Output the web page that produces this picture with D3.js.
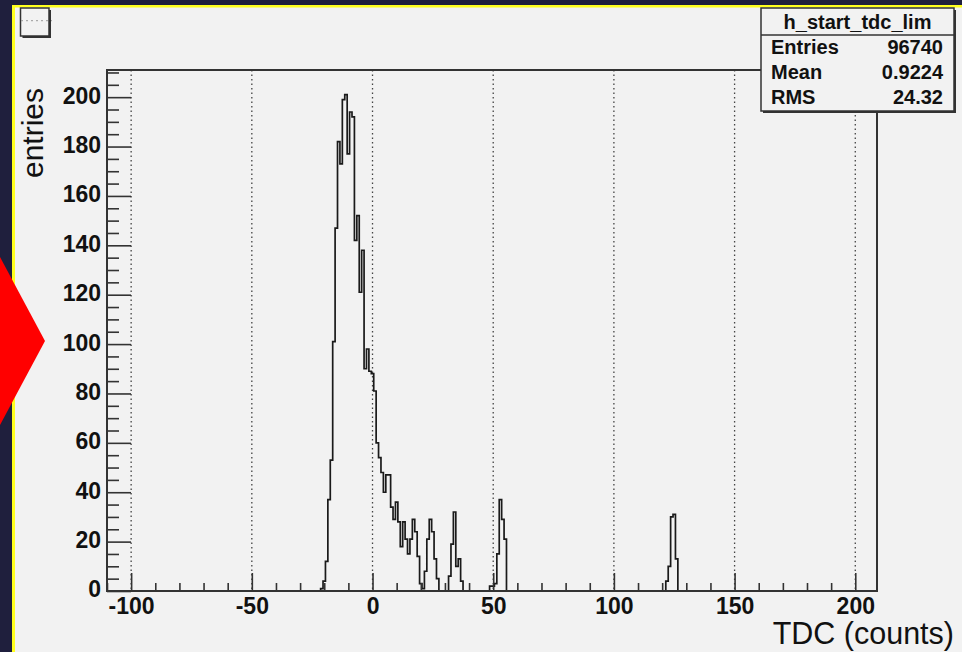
<!DOCTYPE html>
<html>
<head>
<meta charset="utf-8">
<script src="https://cdn.jsdelivr.net/npm/d3@7/dist/d3.min.js"></script>
<style>
  body { margin: 0; background: #1f1f3d; }
  svg text { font-family: "Liberation Sans", Arial, Helvetica, sans-serif; }
</style>
</head>
<body>
<svg id="chart" width="962" height="652"></svg>
<script>
// TDC histogram (h_start_tdc_lim), bins of width 1

// main peak, first bin starts at -21.5
var mainStart = -21.5;
var mainCounts = [1, 4, 12, 37, 53, 101, 147, 182, 173, 199, 201, 177, 194, 192, 142, 152,
  121, 138, 90, 98, 89, 88, 81, 60, 54, 48, 40, 47, 47, 34, 29, 36, 28, 18, 28, 21, 15,
  21, 29, 24, 14, 3, 1, 8, 21, 29, 24, 13, 5];

// smaller bumps
var bump1Start = 31.5;
var bump1Counts = [6, 19, 32, 10, 13, 4];
var bump2Start = 48.5;
var bump2Counts = [2, 2, 3, 15, 37, 29, 21];
var bump3Start = 121.5;
var bump3Counts = [4, 10, 30, 31, 13];

var binWidth = 1;
var xMajorTicks = [-100, -50, 0, 50, 100, 150, 200];
var xMinorTicks = d3.range(-110, 210, 10).filter(v => xMajorTicks.indexOf(v) < 0);
var yMajorTicks = [0, 20, 40, 60, 80, 100, 120, 140, 160, 180, 200];
var yMinorTicks = d3.range(0, 211, 5).filter(v => yMajorTicks.indexOf(v) < 0);

var statsTitle = "h_start_tdc_lim";
var statsRows = [["Entries", "96740"], ["Mean", "0.9224"], ["RMS", "24.32"]];

// frame of the plot
var frame = { left: 107, top: 70, right: 877, bottom: 591 };

var svg = d3.select("#chart");

// pad background with yellow edge
svg.append("rect").attr("x", 12).attr("y", 5).attr("width", 950).attr("height", 647).attr("fill", "#ffff1e");
svg.append("rect").attr("x", 15).attr("y", 7.5).attr("width", 947).attr("height", 645).attr("fill", "#f2f2f2");

var xscale = d3.scaleLinear().domain([-110, 209]).range([frame.left, frame.right]);
var yscale = d3.scaleLinear().domain([0, 211]).range([frame.bottom, frame.top]);

// dotted grid on the major x ticks
svg.append("g").selectAll("line")
  .data(xMajorTicks)
  .enter()
  .append("line")
  .attr("x1", d => xscale(d)).attr("x2", d => xscale(d))
  .attr("y1", frame.top).attr("y2", frame.bottom)
  .attr("stroke", "#444")
  .attr("stroke-width", 1.3)
  .attr("stroke-dasharray", "1.5,3");

// put all the bins on one contiguous list (empty bins in between are 0)
var counts = {};
function addBins(start, list) {
  list.forEach(function(c, i) {
    counts[Math.round((start + i * binWidth) * 2)] = c;
  });
}
addBins(mainStart, mainCounts);
addBins(bump1Start, bump1Counts);
addBins(bump2Start, bump2Counts);
addBins(bump3Start, bump3Counts);

var lastStart = bump3Start + (bump3Counts.length - 1) * binWidth;
var bins = d3.range(mainStart, lastStart + 0.5, binWidth).map(function(lo) {
  return { lo: lo, hi: lo + binWidth, n: counts[Math.round(lo * 2)] || 0 };
});

// step outline, like root draws it
var pts = [[-110, 0], [bins[0].lo, 0]];
bins.forEach(function(b) {
  pts.push([b.lo, b.n]);
  pts.push([b.hi, b.n]);
});
pts.push([bins[bins.length - 1].hi, 0]);
pts.push([209, 0]);

var line = d3.line().x(d => xscale(d[0])).y(d => yscale(d[1]));
svg.append("path")
  .attr("d", line(pts))
  .attr("fill", "none")
  .attr("stroke", "#1a1a1a")
  .attr("stroke-width", 1.7);

// x axis ticks (pointing up)
var xAxis = svg.append("g")
  .attr("transform", `translate(0, ${frame.bottom})`)
  .call(d3.axisBottom(xscale).tickValues(xMajorTicks).tickSize(-18).tickPadding(7)
    .tickFormat(d => String(d)));
svg.append("g")
  .attr("transform", `translate(0, ${frame.bottom})`)
  .call(d3.axisBottom(xscale).tickValues(xMinorTicks).tickSize(-8).tickFormat(""));

// y axis ticks (pointing right)
var yAxis = svg.append("g")
  .attr("transform", `translate(${frame.left}, 0)`)
  .call(d3.axisLeft(yscale).tickValues(yMajorTicks).tickSize(-24).tickPadding(6));
svg.append("g")
  .attr("transform", `translate(${frame.left}, 0)`)
  .call(d3.axisLeft(yscale).tickValues(yMinorTicks).tickSize(-12).tickFormat(""));

svg.selectAll(".domain").remove();
svg.selectAll(".tick line").attr("stroke", "#333").attr("stroke-width", 1.6);
xAxis.selectAll("text")
  .attr("font-size", 23).attr("font-weight", "bold").attr("fill", "#111")
  .attr("font-family", "Liberation Sans, Arial, sans-serif");
yAxis.selectAll("text")
  .attr("font-size", 23).attr("font-weight", "bold").attr("fill", "#111")
  .attr("dy", "0.26em")
  .attr("font-family", "Liberation Sans, Arial, sans-serif");

// frame
svg.append("rect")
  .attr("x", frame.left).attr("y", frame.top)
  .attr("width", frame.right - frame.left).attr("height", frame.bottom - frame.top)
  .attr("fill", "none").attr("stroke", "#333").attr("stroke-width", 2);

// axis titles
svg.append("text")
  .attr("x", 954).attr("y", 644)
  .attr("text-anchor", "end")
  .attr("font-size", 30.5)
  .attr("fill", "#111")
  .text("TDC (counts)");

svg.append("text")
  .attr("transform", "translate(43, 88) rotate(-90)")
  .attr("text-anchor", "end")
  .attr("font-size", 30)
  .attr("fill", "#111")
  .text("entries");

// stats box
var sb = svg.append("g");
sb.append("rect").attr("x", 763).attr("y", 10).attr("width", 193).attr("height", 103).attr("fill", "#333");
sb.append("rect").attr("x", 761).attr("y", 8).attr("width", 193).attr("height", 103)
  .attr("fill", "#f2f2f2").attr("stroke", "#333").attr("stroke-width", 1.5);
sb.append("line").attr("x1", 761).attr("x2", 954).attr("y1", 35).attr("y2", 35)
  .attr("stroke", "#333").attr("stroke-width", 1.5);
sb.append("text")
  .attr("x", 857.5).attr("y", 28.5)
  .attr("text-anchor", "middle")
  .attr("font-size", 20).attr("font-weight", "bold").attr("fill", "#111")
  .text(statsTitle);
statsRows.forEach(function(r, i) {
  sb.append("text")
    .attr("x", 771).attr("y", 53.5 + i * 25)
    .attr("font-size", 20).attr("font-weight", "bold").attr("fill", "#111")
    .text(r[0]);
  sb.append("text")
    .attr("x", 943).attr("y", 53.5 + i * 25)
    .attr("text-anchor", "end")
    .attr("font-size", 20).attr("font-weight", "bold").attr("fill", "#111")
    .text(r[1]);
});

// empty box in the top left corner
var lb = svg.append("g");
lb.append("rect").attr("x", 22.5).attr("y", 10).attr("width", 28.5).attr("height", 28).attr("fill", "#333");
lb.append("rect").attr("x", 20.5).attr("y", 8).attr("width", 28.5).attr("height", 28)
  .attr("fill", "#f2f2f2").attr("stroke", "#333").attr("stroke-width", 1.5);
lb.append("line").attr("x1", 21).attr("x2", 52).attr("y1", 20.7).attr("y2", 20.7)
  .attr("stroke", "#999").attr("stroke-width", 1).attr("stroke-dasharray", "2,3");

// red arrow on the left edge
svg.append("polygon")
  .attr("points", "0,257 45,341 0,425")
  .attr("fill", "#ff0000");
</script>
</body>
</html>
